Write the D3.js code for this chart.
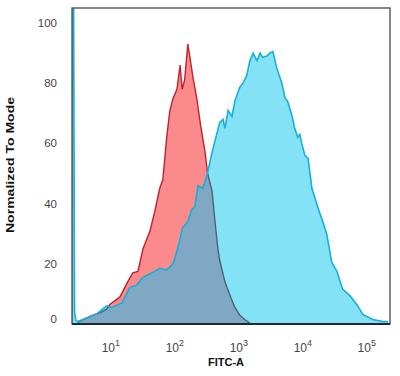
<!DOCTYPE html>
<html>
<head>
<meta charset="utf-8">
<script src="https://cdn.jsdelivr.net/npm/d3@7"></script>
<style>
body{margin:0;background:#fff;}
svg{display:block;}
text{font-family:"Liberation Sans",Arial,sans-serif;}
</style>
</head>
<body>
<svg id="chart" width="400" height="376"></svg>
<script>
// x values are log10 of FITC-A, y values are % of mode
var redX=[0.42,0.61,0.77,0.875,0.92,1.08,1.2,1.28,1.36,1.44,1.55,1.63,1.70,1.75,1.81,1.86,1.91,1.97,2.02,2.05,2.09,2.14,2.17,2.22,2.28,2.34,2.41,2.45,2.52,2.56,2.61,2.64,2.72,2.80,2.875,2.95,3.03,3.11];
var redY=[0.5,2.5,3.8,5,6.5,9,14,17,17.5,25,31,38,45,48,62,71,75,78,86,78,81,93,89,82,75,66,57,50,44,35,25,21,14,9.5,5.5,3,1.5,0.3];

var blueX=[0.33,0.337,0.352,0.37,0.39,0.42,0.56,0.72,0.81,0.875,0.95,1.11,1.23,1.34,1.44,1.58,1.66,1.70,1.81,1.91,1.98,2.06,2.14,2.20,2.25,2.30,2.375,2.44,2.53,2.64,2.69,2.72,2.77,2.83,2.875,2.95,3.0,3.06,3.11,3.16,3.22,3.27,3.31,3.375,3.42,3.47,3.53,3.61,3.66,3.70,3.77,3.81,3.86,3.89,3.92,3.97,4.02,4.08,4.20,4.25,4.31,4.39,4.47,4.56,4.67,4.78,4.875,5.03,5.19,5.27];
var blueY=[0,130,130,4,1.2,0.8,2,3.4,5,6,5.5,7,12,13,15.5,17,18,18.5,18,20,25,32,34,38,39,46,45,49.5,58,67,68,65,71,69,74,78.5,80,82.5,87.5,90,87.5,90,88.6,89,90,90.5,85,80,75,74,69,65,62,63,60,56,55,45,37,34,30,20.5,17.5,11.5,9.5,6.5,3.2,1.5,0.8,0.8];

var yTicks=[0,20,40,60,80,100];
var xTicks=[1,2,3,4,5];
var yTitle="Normalized To Mode";
var xTitle="FITC-A";

var svg=d3.select("#chart");
var pLeft=72,pRight=390,pTop=8,pBottom=324;

var x=d3.scaleLinear().domain([0.33,5.3]).range([pLeft,pRight]);
var y=d3.scaleLinear().domain([0,100]).range([pBottom,23]);

var red=redX.map(function(d,i){return [d,redY[i]];});
var blue=blueX.map(function(d,i){return [d,blueY[i]];});

// linear lookup inside a series, 0 outside of it
function valueAt(s,v){
    if(v<s[0][0]||v>s[s.length-1][0]) return 0;
    for(var i=1;i<s.length;i++){
        if(v<=s[i][0]){
            var t=(v-s[i-1][0])/(s[i][0]-s[i-1][0]);
            return s[i-1][1]+t*(s[i][1]-s[i-1][1]);
        }
    }
    return 0;
}
var grid=d3.range(0.33,5.3,0.005).concat(redX,blueX).sort(d3.ascending);
var both=grid.map(function(v){return [v,Math.min(valueAt(red,v),valueAt(blue,v))];});

var area=d3.area().x(function(d){return x(d[0]);}).y0(pBottom).y1(function(d){return y(d[1]);});
var line=d3.line().x(function(d){return x(d[0]);}).y(function(d){return y(d[1]);});

var defs=svg.append("defs");
defs.append("clipPath").attr("id","plot").append("rect")
    .attr("x",pLeft).attr("y",pTop).attr("width",pRight-pLeft).attr("height",pBottom-pTop);
defs.append("clipPath").attr("id","blueClip").append("path").attr("d",area(blue));

var g=svg.append("g").attr("clip-path","url(#plot)");

g.append("path").attr("d",area(red)).attr("fill","#fb8a8c");
g.append("path").attr("d",line(red)).attr("fill","none").attr("stroke","#c0222c").attr("stroke-width",1.4);
g.append("path").attr("d",area(blue)).attr("fill","#84e2f7");
g.append("path").attr("d",area(both)).attr("fill","#7ea8c3");
g.append("g").attr("clip-path","url(#blueClip)")
    .append("path").attr("d",line(red)).attr("fill","none").attr("stroke","#4d6272").attr("stroke-width",1.4);
g.append("path").attr("d",line(blue)).attr("fill","none").attr("stroke","#18afd6").attr("stroke-width",1.6);

// frame
svg.append("rect").attr("x",pLeft).attr("y",pTop).attr("width",pRight-pLeft).attr("height",pBottom-pTop)
    .attr("fill","none").attr("stroke","#555").attr("stroke-width",1.4);
svg.append("line").attr("x1",pLeft).attr("x2",pRight).attr("y1",pBottom).attr("y2",pBottom)
    .attr("stroke","#1d2a33").attr("stroke-width",2);

// y tick labels
svg.selectAll(".ylab").data(yTicks).enter().append("text")
    .attr("x",57).attr("y",function(d){return y(d)+(d===0?-1:4);})
    .attr("text-anchor","end").attr("font-size",11.5).attr("fill","#444")
    .text(function(d){return d;});

// x tick labels 10^n
var xl=svg.selectAll(".xlab").data(xTicks).enter().append("text")
    .attr("x",function(d){return x(d)-4;}).attr("y",352)
    .attr("text-anchor","middle").attr("font-size",12).attr("fill","#444");
xl.append("tspan").text("10");
xl.append("tspan").attr("dy",-6).attr("font-size",9).text(function(d){return d;});

svg.append("text").attr("x",208).attr("y",366).attr("font-size",11).attr("font-weight","bold")
    .attr("fill","#111").text(xTitle);
svg.append("text").attr("transform","translate(14,165) rotate(-90)")
    .attr("text-anchor","middle").attr("font-size",10).attr("font-weight","bold").attr("fill","#111")
    .attr("textLength",136).attr("lengthAdjust","spacingAndGlyphs")
    .text(yTitle);
</script>
</body>
</html>
